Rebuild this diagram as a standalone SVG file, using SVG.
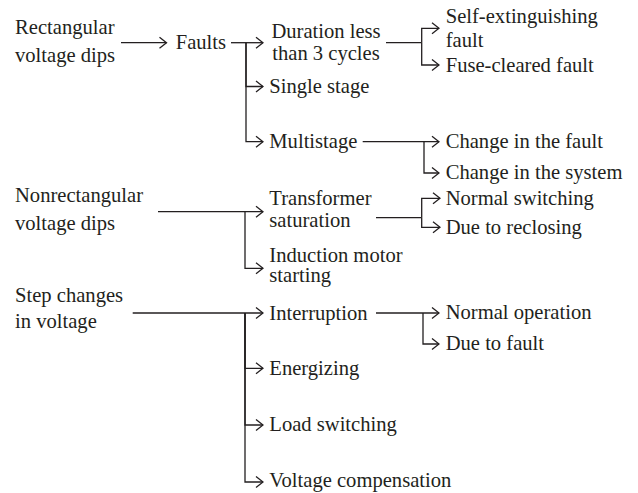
<svg xmlns="http://www.w3.org/2000/svg" width="638" height="493" viewBox="0 0 638 493">
<style>
text{font-family:"Liberation Serif","DejaVu Serif",serif;font-size:20.6px;fill:#231f20}
.c{text-anchor:middle}
.ln{fill:none;stroke:#231f20;stroke-width:1.3}
</style>
<defs>
<marker id="ah" viewBox="0 0 9 13" refX="8" refY="6.5" markerWidth="9" markerHeight="13" markerUnits="userSpaceOnUse" orient="auto">
<path d="M1,1 L8,6.5 L1,12" fill="none" stroke="#231f20" stroke-width="1.3"/>
</marker>
</defs>
<rect width="638" height="493" fill="#fff"/>
<g id="connectors" class="ln">
<path class="ln" d="M121,42.7 H166.5" marker-end="url(#ah)"/>
<path class="ln" d="M231,42.7 H263" marker-end="url(#ah)"/>
<path class="ln" d="M246,42.7 V86.5 H263" marker-end="url(#ah)"/>
<path class="ln" d="M246,42.7 V141.7 H263" marker-end="url(#ah)"/>
<path class="ln" d="M386,42.7 H421.7"/>
<path class="ln" d="M421.7,42.7 V28.3 H439" marker-end="url(#ah)"/>
<path class="ln" d="M421.7,42.7 V65 H439" marker-end="url(#ah)"/>
<path class="ln" d="M362.7,141.7 H439" marker-end="url(#ah)"/>
<path class="ln" d="M424,141.7 V173 H439" marker-end="url(#ah)"/>
<path class="ln" d="M158,211.7 H263" marker-end="url(#ah)"/>
<path class="ln" d="M245,211.7 V268.3 H263" marker-end="url(#ah)"/>
<path class="ln" d="M376,217.7 H421.7"/>
<path class="ln" d="M421.7,217.7 V198.3 H440" marker-end="url(#ah)"/>
<path class="ln" d="M421.7,217.7 V227.3 H440" marker-end="url(#ah)"/>
<path class="ln" d="M132.7,313 H263" marker-end="url(#ah)"/>
<path class="ln" d="M245,313 V368.3 H263" marker-end="url(#ah)"/>
<path class="ln" d="M245,313 V425 H263" marker-end="url(#ah)"/>
<path class="ln" d="M245,313 V482 H263" marker-end="url(#ah)"/>
<path class="ln" d="M376,313 H439" marker-end="url(#ah)"/>
<path class="ln" d="M423,313 V344 H439" marker-end="url(#ah)"/>
</g>
<g id="rect-dips"><text x="15" y="33.5">Rectangular</text><text x="15" y="61.5">voltage dips</text></g>
<g id="faults"><text x="175.7" y="49.3">Faults</text></g>
<g id="duration"><text class="c" x="326" y="38">Duration less</text><text class="c" x="326" y="59.5">than 3 cycles</text></g>
<g id="single-stage"><text x="269.3" y="92.5">Single stage</text></g>
<g id="multistage"><text x="269.3" y="148">Multistage</text></g>
<g id="self-ext"><text x="445.7" y="23.3">Self-extinguishing</text><text x="445.7" y="46.7">fault</text></g>
<g id="fuse-cleared"><text x="445.7" y="72">Fuse-cleared fault</text></g>
<g id="change-fault"><text x="445.7" y="148">Change in the fault</text></g>
<g id="change-system"><text x="445.7" y="179">Change in the system</text></g>
<g id="nonrect-dips"><text x="15" y="201.7">Nonrectangular</text><text x="15" y="229.5">voltage dips</text></g>
<g id="transformer"><text x="269.3" y="205">Transformer</text><text x="269.3" y="226.7">saturation</text></g>
<g id="normal-switching"><text x="445.7" y="205">Normal switching</text></g>
<g id="due-reclosing"><text x="445.7" y="234">Due to reclosing</text></g>
<g id="induction"><text x="269.3" y="261.7">Induction motor</text><text x="269.3" y="282">starting</text></g>
<g id="step-changes"><text x="15" y="302">Step changes</text><text x="15" y="328">in voltage</text></g>
<g id="interruption"><text x="269.3" y="319.5">Interruption</text></g>
<g id="normal-operation"><text x="445.7" y="319">Normal operation</text></g>
<g id="due-fault"><text x="445.7" y="350">Due to fault</text></g>
<g id="energizing"><text x="269.3" y="375">Energizing</text></g>
<g id="load-switching"><text x="269.3" y="431">Load switching</text></g>
<g id="voltage-comp"><text x="269.3" y="487">Voltage compensation</text></g>
</svg>
